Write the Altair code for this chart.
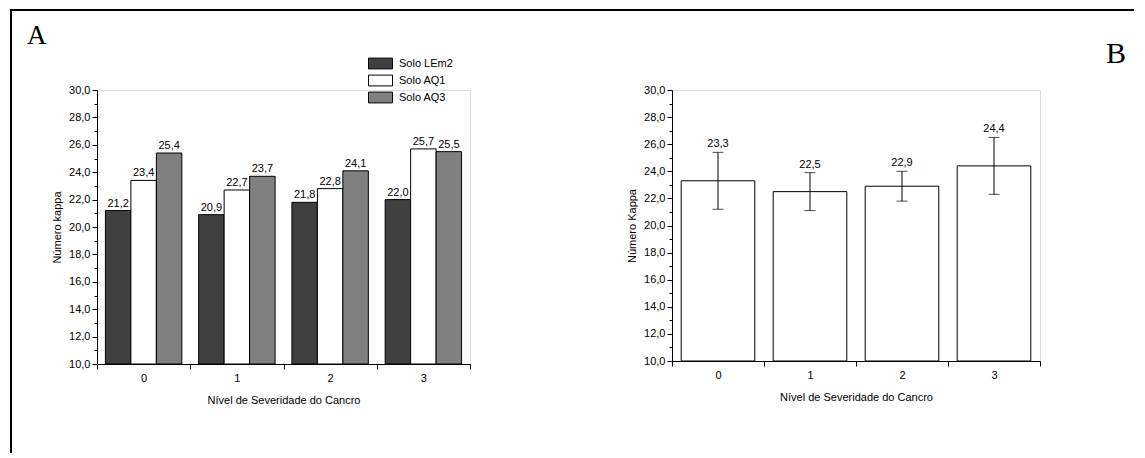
import altair as alt
import pandas as pd

# ---------------- data ----------------
niveis = ["0", "1", "2", "3"]
solos = ["Solo LEm2", "Solo AQ1", "Solo AQ3"]
cores = ["#404040", "#ffffff", "#808080"]

solo_lem2 = [21.2, 20.9, 21.8, 22.0]
solo_aq1 = [23.4, 22.7, 22.8, 25.7]
solo_aq3 = [25.4, 23.7, 24.1, 25.5]

media_b = [23.3, 22.5, 22.9, 24.4]
erro_inf = [21.2, 21.1, 21.8, 22.3]
erro_sup = [25.4, 23.9, 24.0, 26.5]

y_ticks = list(range(10, 31))

FONT = "Liberation Sans"
SERIF = "Liberation Serif"
LABEL_EXPR = "replace(format(datum.valor, '.1f'), '.', ',')"


def y_axis(title):
    return alt.Axis(
        title=title,
        values=y_ticks,
        labelExpr="datum.value % 2 == 0 ? replace(format(datum.value, '.1f'), '.', ',') : ''",
        tickSize={"condition": {"test": "datum.value % 2 == 0", "value": 5}, "value": 3},
        labelOverlap=False,
        grid=False,
        domainColor="black",
        tickColor="black",
        labelColor="black",
        titleColor="black",
        labelFont=FONT,
        titleFont=FONT,
        labelFontSize=11,
        titleFontSize=11,
        titleFontWeight="normal",
        labelPadding=2,
        titlePadding=6,
    )


def x_axis():
    return alt.Axis(
        title="Nível de Severidade do Cancro",
        labelAngle=0,
        tickBand="extent",
        tickSize=5,
        grid=False,
        domainColor="black",
        tickColor="black",
        labelColor="black",
        titleColor="black",
        labelFont=FONT,
        titleFont=FONT,
        labelFontSize=11,
        titleFontSize=11,
        titleFontWeight="normal",
        labelPadding=3,
        titlePadding=11,
    )


y_scale = alt.Scale(domain=[10, 30], nice=False, zero=False)
x_scale = alt.Scale(paddingInner=0, paddingOuter=0)

deco = pd.DataFrame({"k": [0]})

# ---------------- panel A ----------------
df_a = pd.DataFrame({
    "nivel": niveis * 3,
    "solo": [s for s in solos for _ in niveis],
    "valor": solo_lem2 + solo_aq1 + solo_aq3,
})

base_a = alt.Chart(df_a).encode(
    x=alt.X("nivel:N", sort=niveis, scale=x_scale, axis=x_axis()),
    xOffset=alt.XOffset("solo:N", sort=solos,
                        scale=alt.Scale(paddingInner=0, paddingOuter=0.33)),
    y=alt.Y("valor:Q", scale=y_scale, axis=y_axis("Número kappa")),
)

bars_a = base_a.mark_bar(stroke="black", strokeWidth=1).encode(
    y2=alt.datum(10),
    fill=alt.Fill(
        "solo:N", sort=solos,
        scale=alt.Scale(domain=solos, range=cores),
        legend=alt.Legend(
            title=None, orient="none", legendX=277, legendY=-33,
            symbolType="M-2,-0.9H2V0.9H-2Z", symbolSize=144,
            symbolStrokeColor="black", symbolStrokeWidth=1, symbolOpacity=1,
            labelFont=FONT, labelFontSize=11, labelColor="black",
            labelOffset=12, rowPadding=2, padding=0,
        ),
    ),
)

labels_a = base_a.transform_calculate(rot=LABEL_EXPR).mark_text(
    baseline="bottom", dy=-2, font=FONT, fontSize=11, color="black"
).encode(text="rot:N")

frame_left_a = alt.Chart(deco).mark_rule(color="black", strokeWidth=2).encode(
    x=alt.value(-86), y=alt.value(-80), y2=alt.value(363))
frame_top_a = alt.Chart(deco).mark_rule(color="black", strokeWidth=2).encode(
    x=alt.value(-87), x2=alt.value(463), y=alt.value(-80))
letter_a = alt.Chart(deco).mark_text(
    text="A", font=SERIF, fontSize=27, align="left", baseline="alphabetic", color="black"
).encode(x=alt.value(-70), y=alt.value(-46))

chart_a = alt.layer(bars_a, labels_a, frame_left_a, frame_top_a, letter_a).properties(
    width=373, height=274)

# ---------------- panel B ----------------
df_b = pd.DataFrame({"nivel": niveis, "valor": media_b, "inf": erro_inf, "sup": erro_sup})

yb_axis = y_axis("Número Kappa")

base_b = alt.Chart(df_b).encode(
    x=alt.X("nivel:N", sort=niveis, scale=x_scale, axis=x_axis()))

bars_b = base_b.mark_bar(fill="white", stroke="black", strokeWidth=1,
                         width=alt.RelativeBandSize(0.8)).encode(
    y=alt.Y("valor:Q", scale=y_scale, axis=yb_axis),
    y2=alt.datum(10),
)
err_b = base_b.mark_rule(color="black", strokeWidth=1).encode(
    y=alt.Y("inf:Q", scale=y_scale, axis=yb_axis), y2="sup:Q")
cap_lo = base_b.mark_tick(color="black", size=11, thickness=1).encode(
    y=alt.Y("inf:Q", scale=y_scale, axis=yb_axis))
cap_hi = base_b.mark_tick(color="black", size=11, thickness=1).encode(
    y=alt.Y("sup:Q", scale=y_scale, axis=yb_axis))
labels_b = base_b.transform_calculate(rot=LABEL_EXPR).mark_text(
    baseline="bottom", dy=-3, font=FONT, fontSize=11, color="black"
).encode(y=alt.Y("sup:Q", scale=y_scale, axis=yb_axis), text="rot:N")

frame_top_b = alt.Chart(deco).mark_rule(color="black", strokeWidth=2).encode(
    x=alt.value(-112), x2=alt.value(462), y=alt.value(-80))
letter_b = alt.Chart(deco).mark_text(
    text="B", font=SERIF, fontSize=30, align="left", baseline="alphabetic", color="black"
).encode(x=alt.value(434), y=alt.value(-27))

chart_b = alt.layer(bars_b, err_b, cap_lo, cap_hi, labels_b, frame_top_b, letter_b).properties(
    width=368, height=271)

chart = alt.hconcat(chart_a, chart_b, spacing=-4).properties(padding=0).configure_view(
    stroke=None).configure(font=FONT)

chart.save("out.html", embed_options={"renderer": "svg", "actions": False})
